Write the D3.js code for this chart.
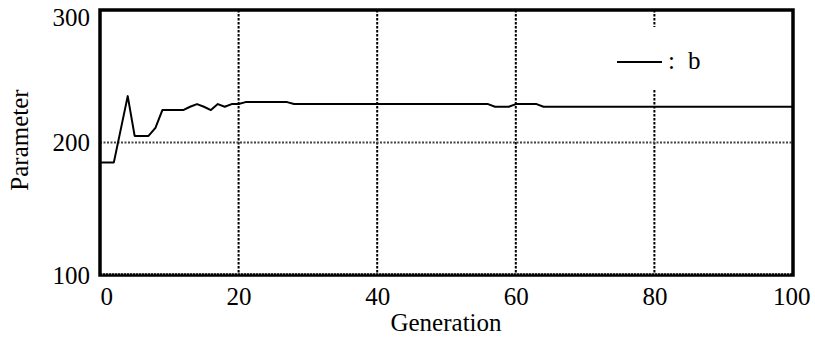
<!DOCTYPE html>
<html>
<head>
<meta charset="utf-8">
<script src="https://cdn.jsdelivr.net/npm/d3@7"></script>
<style>
  html, body { margin: 0; padding: 0; background: #fff; }
  svg { display: block; }
  text { font-family: "Liberation Serif", "Times New Roman", serif; fill: #000; }
</style>
</head>
<body>
<svg id="chart" width="815" height="341"></svg>
<script>
// breakpoints of the "b" line
const generations = [0, 2, 4, 5, 7, 8, 9, 12, 13, 14, 15, 16, 17, 18, 19, 20, 21, 27, 28, 56, 57, 59, 60, 63, 64, 100];
const paramB      = [185, 185, 235, 205, 205, 211, 224.5, 224.5, 227, 229, 227, 224.5, 229, 227, 229, 229, 230.5, 230.5, 229, 229, 227, 227, 229, 229, 227, 227];

const xTicks = [0, 20, 40, 60, 80, 100];
const yTicks = [100, 200, 300];
const seriesName = 'b';

const svg = d3.select('#chart');
const W = 815, H = 341;
const plot = { left: 100, right: 793, top: 10, bottom: 275 };
const fontSize = 25;
const serif = '"Liberation Serif", "Times New Roman", serif';

const x = d3.scaleLinear().domain([0, 100]).range([plot.left, plot.right]);
const y = d3.scaleLinear().domain([100, 300]).range([plot.bottom, plot.top]);

// gridlines
const grid = svg.append('g').attr('class', 'grid');
grid.selectAll('.vgrid')
  .data(xTicks.filter(d => d > 0 && d < 100))
  .enter().append('line')
  .attr('x1', d => x(d)).attr('x2', d => x(d))
  .attr('y1', plot.top).attr('y2', plot.bottom)
  .attr('stroke', '#000')
  .attr('stroke-width', 2)
  .attr('stroke-dasharray', '2.5,1.5');

grid.selectAll('.hgrid')
  .data(yTicks.filter(d => d > 100 && d < 300))
  .enter().append('line')
  .attr('x1', plot.left).attr('x2', plot.right)
  .attr('y1', d => y(d)).attr('y2', d => y(d))
  .attr('stroke', '#444')
  .attr('stroke-width', 2)
  .attr('stroke-dasharray', '2,1.5');

// legend background (hides gridline behind it)
const legend = svg.append('g').attr('class', 'legend');
legend.append('rect')
  .attr('x', 600).attr('y', 27)
  .attr('width', 120).attr('height', 63)
  .attr('fill', '#fff');
legend.append('line')
  .attr('x1', 617).attr('x2', 662)
  .attr('y1', 62).attr('y2', 62)
  .attr('stroke', '#000').attr('stroke-width', 2);
const lt = legend.append('text')
  .attr('y', 69)
  .attr('font-family', serif)
  .style('font-size', fontSize + 'px');
lt.append('tspan').attr('x', 668).text(':');
lt.append('tspan').attr('x', 688).text(seriesName);

// data line
const pts = generations.map((g, i) => [g, paramB[i]]);
const line = d3.line().x(d => x(d[0])).y(d => y(d[1]));
svg.append('path')
  .datum(pts)
  .attr('d', line)
  .attr('fill', 'none')
  .attr('stroke', '#000')
  .attr('stroke-width', 2)
  .attr('stroke-linejoin', 'round');

// frame
svg.append('rect')
  .attr('x', plot.left).attr('y', plot.top)
  .attr('width', plot.right - plot.left)
  .attr('height', plot.bottom - plot.top)
  .attr('fill', 'none')
  .attr('stroke', '#000')
  .attr('stroke-width', 3.5);

// dotted line along the bottom edge (gridline at 100)
svg.append('line')
  .attr('x1', plot.left + 2).attr('x2', plot.right - 2)
  .attr('y1', plot.bottom - 1.2).attr('y2', plot.bottom - 1.2)
  .attr('stroke', '#fff')
  .attr('stroke-width', 0.8)
  .attr('stroke-dasharray', '1,2');

// axes (labels only)
const xAxis = svg.append('g')
  .attr('transform', `translate(0,${plot.bottom})`)
  .call(d3.axisBottom(x).tickValues(xTicks).tickSize(0).tickPadding(0).tickFormat(d3.format('d')));
xAxis.attr('font-family', serif);
xAxis.select('.domain').remove();
xAxis.selectAll('text')
  .attr('font-family', serif)
  .style('font-size', fontSize + 'px')
  .attr('dy', null)
  .attr('y', 30)
  .attr('x', d => {
    const half = String(d).length * fontSize * 0.25;
    const cx = Math.min(Math.max(x(d), plot.left + half), W - 5 - half);
    return cx - x(d);
  });

const yAxis = svg.append('g')
  .attr('transform', `translate(${plot.left},0)`)
  .call(d3.axisLeft(y).tickValues(yTicks).tickSize(0).tickPadding(10).tickFormat(d3.format('d')));
yAxis.attr('font-family', serif);
yAxis.select('.domain').remove();
yAxis.selectAll('text')
  .attr('font-family', serif)
  .style('font-size', fontSize + 'px')
  .attr('dy', '0.33em')
  .attr('y', d => Math.max(y(d), 17) - y(d));

// axis titles
svg.append('text')
  .attr('x', 446).attr('y', 331)
  .attr('text-anchor', 'middle')
  .attr('font-family', serif)
  .style('font-size', fontSize + 'px')
  .text('Generation');

svg.append('text')
  .attr('transform', 'translate(28,140) rotate(-90)')
  .attr('text-anchor', 'middle')
  .attr('font-family', serif)
  .style('font-size', fontSize + 'px')
  .text('Parameter');
</script>
</body>
</html>
